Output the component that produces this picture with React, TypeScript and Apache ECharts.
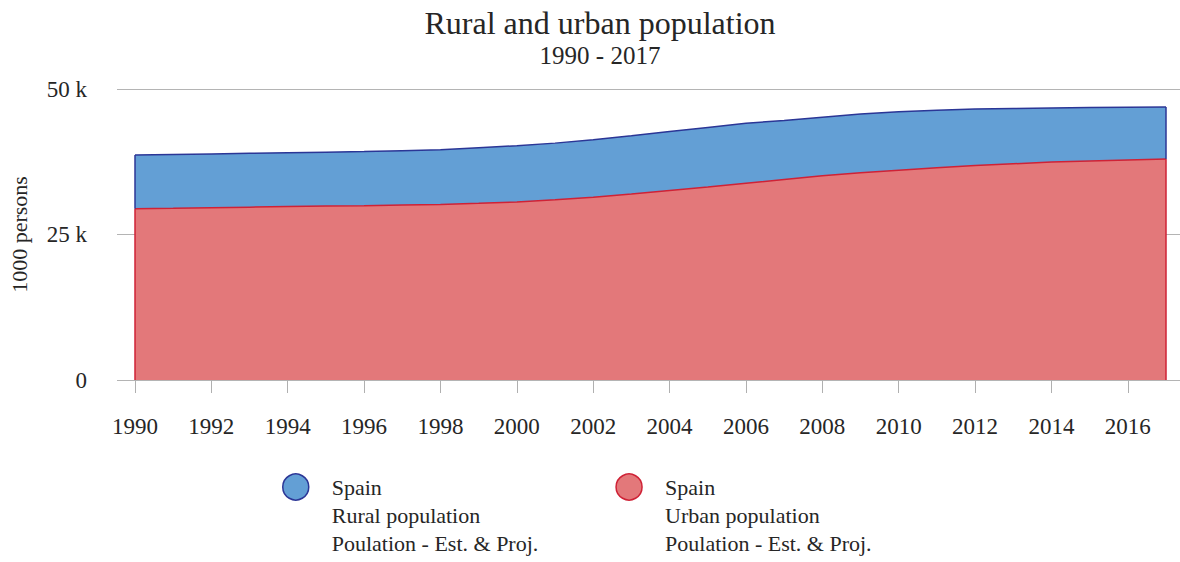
import React, { useEffect, useRef } from "react";
import * as echarts from "echarts";

const years = [1990, 1991, 1992, 1993, 1994, 1995, 1996, 1997, 1998, 1999, 2000, 2001, 2002, 2003, 2004, 2005, 2006, 2007, 2008, 2009, 2010, 2011, 2012, 2013, 2014, 2015, 2016, 2017];
// thousands of persons
const urbanValues = [29430, 29500, 29600, 29700, 29800, 29880, 29950, 30050, 30150, 30350, 30600, 30950, 31400, 31950, 32550, 33150, 33800, 34450, 35100, 35600, 36050, 36450, 36850, 37150, 37450, 37650, 37820, 37970];
const ruralValues = [9230, 9250, 9250, 9250, 9250, 9270, 9300, 9350, 9400, 9550, 9650, 9750, 9900, 10000, 10150, 10250, 10300, 10150, 10050, 10100, 10050, 9900, 9700, 9500, 9300, 9150, 9030, 8930];
const tickYears = [1990, 1992, 1994, 1996, 1998, 2000, 2002, 2004, 2006, 2008, 2010, 2012, 2014, 2016];
const yMin = 0;
const yMax = 50000;
const yInterval = 25000;

const legendRural = "\n\nSpain\nRural population\nPoulation - Est. & Proj.";
const legendUrban = "\n\nSpain\nUrban population\nPoulation - Est. & Proj.";

const FONT = "Liberation Serif";
const TEXT = "#262626";
const BLUE_FILL = "#639fd5";
const BLUE_LINE = "#2b3696";
const RED_FILL = "#e3787a";
const RED_LINE = "#cf2236";

export default function App() {
  const ref = useRef<HTMLDivElement>(null);
  useEffect(() => {
    document.body.style.margin = "0";
    if (!ref.current) return;
    const chart = echarts.init(ref.current, null, { renderer: "svg" });
    const urbanData = years.map((y, i) => [y, urbanValues[i]]);
    // rural sits on top of urban: its upper edge is urban + rural
    const ruralTopData = years.map((y, i) => [y, urbanValues[i] + ruralValues[i]]);
    const last = years.length - 1;
    const edgeData = [
      [years[0], urbanValues[0], urbanValues[0] + ruralValues[0]],
      [years[last], urbanValues[last], urbanValues[last] + ruralValues[last]],
    ];
    chart.setOption({
      animation: false,
      textStyle: { fontFamily: FONT, color: TEXT },
      title: {
        text: "Rural and urban population",
        subtext: "1990 - 2017",
        left: 595,
        textAlign: "center",
        top: 2,
        itemGap: 4,
        textStyle: { fontFamily: FONT, fontSize: 32, fontWeight: "normal", color: TEXT },
        subtextStyle: { fontFamily: FONT, fontSize: 25, color: TEXT },
      },
      legend: {
        left: 277,
        top: 412,
        orient: "horizontal",
        itemWidth: 62,
        itemHeight: 26,
        itemGap: 77,
        selectedMode: false,
        data: [
          { name: "Rural", icon: "circle", itemStyle: { color: BLUE_FILL, borderColor: BLUE_LINE, borderWidth: 1.5 } },
          { name: "Urban", icon: "circle", itemStyle: { color: RED_FILL, borderColor: RED_LINE, borderWidth: 1.5 } },
        ],
        formatter: (n: string) => (n === "Rural" ? legendRural : legendUrban),
        textStyle: { fontFamily: FONT, fontSize: 22, lineHeight: 28, color: TEXT },
      },
      grid: [
        { left: 135, right: 14, top: 89, bottom: 182 },
        { left: 115, right: 0, top: 89, bottom: 182 },
      ],
      xAxis: [
        {
          type: "value",
          gridIndex: 0,
          min: 1990,
          max: 2017,
          interval: 2,
          axisLine: { show: false },
          axisTick: { show: true, length: 13, lineStyle: { color: "#b0b0b0" }, customValues: tickYears },
          splitLine: { show: false },
          axisLabel: {
            customValues: tickYears,
            margin: 35,
            fontFamily: FONT,
            fontSize: 23,
            color: TEXT,
            formatter: (v: number) => String(v),
          },
        },
        { type: "value", gridIndex: 1, min: 0, max: 1, show: false },
      ],
      yAxis: [
        { type: "value", gridIndex: 0, min: yMin, max: yMax, interval: yInterval, show: false },
        {
          type: "value",
          gridIndex: 1,
          min: yMin,
          max: yMax,
          interval: yInterval,
          name: "1000 persons",
          nameLocation: "middle",
          nameGap: 87,
          nameTextStyle: { fontFamily: FONT, fontSize: 22, color: TEXT },
          axisLine: { show: false },
          axisTick: { show: false },
          splitLine: { show: true, lineStyle: { color: "#b4b4b4", width: 1 } },
          axisLabel: {
            margin: 30,
            fontFamily: FONT,
            fontSize: 23,
            color: TEXT,
            formatter: (v: number) => (v === 0 ? "0" : v / 1000 + " k"),
          },
        },
      ],
      series: [
        {
          name: "Rural",
          type: "line",
          xAxisIndex: 0,
          yAxisIndex: 0,
          data: ruralTopData,
          smooth: false,
          showSymbol: false,
          symbol: "none",
          lineStyle: { color: BLUE_LINE, width: 1.5 },
          itemStyle: { color: BLUE_FILL },
          areaStyle: { color: BLUE_FILL, opacity: 1 },
          z: 2,
        },
        {
          name: "Urban",
          type: "line",
          xAxisIndex: 0,
          yAxisIndex: 0,
          data: urbanData,
          smooth: false,
          showSymbol: false,
          symbol: "none",
          lineStyle: { color: RED_LINE, width: 1.5 },
          itemStyle: { color: RED_FILL },
          areaStyle: { color: RED_FILL, opacity: 1 },
          z: 3,
        },
        {
          type: "custom",
          xAxisIndex: 0,
          yAxisIndex: 0,
          data: edgeData,
          z: 4,
          silent: true,
          renderItem: (params: any, api: any) => {
            const x = api.value(0);
            const p0 = api.coord([x, 0]);
            const p1 = api.coord([x, api.value(1)]);
            const p2 = api.coord([x, api.value(2)]);
            return {
              type: "group",
              children: [
                { type: "line", shape: { x1: p0[0], y1: p0[1], x2: p1[0], y2: p1[1] }, style: { stroke: RED_LINE, lineWidth: 1.5 } },
                { type: "line", shape: { x1: p1[0], y1: p1[1], x2: p2[0], y2: p2[1] }, style: { stroke: BLUE_LINE, lineWidth: 1.5 } },
              ],
            };
          },
        },
      ],
    });
    return () => chart.dispose();
  }, []);
  return <div ref={ref} style={{ width: 1180, height: 562 }} />;
}
